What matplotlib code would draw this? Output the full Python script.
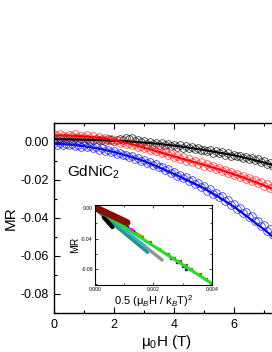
import numpy as np
import matplotlib
matplotlib.use("Agg")
import matplotlib.pyplot as plt
from matplotlib.ticker import MultipleLocator, FormatStrFormatter

plt.rcParams['font.family'] = ['Liberation Sans', 'DejaVu Sans']
plt.rcParams['mathtext.fontset'] = 'custom'
plt.rcParams['mathtext.rm'] = 'Liberation Sans'
plt.rcParams['mathtext.it'] = 'Liberation Sans:italic'
plt.rcParams['axes.unicode_minus'] = False

# ---- main data: field (T) and MR (in units of 1e-4) ----
field = [round(0.1 * i, 1) for i in range(74)]
black_mr_e4 = [18, 10, 20, 14, 8, 17, 12, 19, 9, 15,
               11, 18, 6, 13, 16, 8, 12, 5, 14, 9,
               4, 12, 16, 8, 20, 14, 22, 6, 10, -2,
               4, -8, 2, -12, -4, -14, -6, -18, -10, -22,
               -14, -26, -18, -30, -22, -34, -28, -38, -30, -44,
               -40, -50, -44, -56, -50, -60, -54, -66, -60, -72,
               -66, -76, -72, -82, -78, -90, -84, -96, -92, -104,
               -100, -114, -110, -124]
red_mr_e4 = [40, 30, 42, 34, 28, 38, 30, 40, 26, 34,
             28, 36, 22, 30, 18, 26, 14, 22, 8, 16,
             4, 12, -4, 2, -12, -4, -18, -10, -26, -20,
             -34, -26, -42, -36, -50, -44, -60, -52, -68, -62,
             -80, -72, -88, -80, -98, -90, -106, -98, -114, -106,
             -124, -116, -132, -126, -144, -136, -154, -146, -164, -158,
             -176, -166, -184, -178, -196, -188, -206, -198, -216, -210,
             -232, -222, -244, -238]
blue_mr_e4 = [-6, -16, -4, -14, -8, -18, -10, -20, -14, -24,
              -18, -28, -22, -34, -28, -40, -34, -46, -42, -54,
              -50, -62, -56, -70, -66, -80, -74, -88, -84, -98,
              -94, -110, -104, -120, -116, -134, -130, -148, -142, -162,
              -158, -178, -172, -192, -186, -206, -200, -222, -216, -238,
              -232, -256, -250, -272, -268, -292, -286, -310, -306, -332,
              -326, -352, -346, -372, -368, -396, -390, -418, -414, -442,
              -438, -466, -460, -490]

# fit curves (units of 1e-4)
fit_field = [0.0, 0.5, 1.0, 1.5, 2.0, 2.5, 3.0, 3.5, 4.0, 4.5, 5.0, 5.5, 6.0, 6.5, 7.0, 7.5]
black_fit_e4 = [15, 14, 12, 10, 7, 3, -3, -10, -19, -30, -42, -56, -70, -88, -108, -130]
red_fit_e4 = [35, 34, 30, 22, 10, -8, -30, -52, -76, -98, -120, -144, -170, -198, -228, -260]
blue_fit_e4 = [-10, -13, -22, -35, -53, -75, -100, -133, -168, -205, -243, -290, -340, -400, -460, -525]

# ---- inset data ----
gray_x = [0.0002, 0.0023]
gray_y = [-0.005, -0.068]
teal_x = [0.0001, 0.0018]
teal_y = [-0.004, -0.058]
cyan_x = [0.0001, 0.0017]
cyan_y = [-0.003, -0.050]
orange_x = [0.0001, 0.0016]
orange_y = [-0.001, -0.038]
olive_x = [0.0002, 0.0014]
olive_y = [-0.002, -0.033]
navy_x = [0.0009, 0.0011, 0.0013, 0.0026, 0.0028, 0.0030, 0.0031]
navy_y = [-0.020, -0.025, -0.030, -0.066, -0.071, -0.076, -0.080]
brown_x = [0.0016, 0.0019, 0.0022, 0.0025, 0.0027, 0.0029, 0.0031, 0.0033, 0.0036, 0.0038]
brown_y = [-0.038, -0.045, -0.053, -0.060, -0.065, -0.070, -0.075, -0.080, -0.087, -0.093]
black_in_x = [0.0003, 0.0006]
black_in_y = [-0.012, -0.025]
maroon_x = [0.0000, 0.0011]
maroon_y = [0.001, -0.019]
green_x = [0.0000, 0.0040]
green_y = [0.000, -0.099]
magenta_x = [0.00125]
magenta_y = [-0.028]

fig = plt.figure(figsize=(2.72, 3.52), dpi=100)
ax = fig.add_axes([0.1985, 0.1108, 0.827, 0.5398])

H = np.array(field)
for vals, col in [(black_mr_e4, '#202020'),
                  (red_mr_e4, '#ff3030'),
                  (blue_mr_e4, '#2020ff')]:
    ax.plot(H, np.array(vals) / 1e4, 'o', mfc='none', mec=col, ms=5.5, mew=0.5)
for fit, col in [(black_fit_e4, 'black'), (red_fit_e4, '#ff0000'), (blue_fit_e4, '#0000ff')]:
    ax.plot(fit_field, np.array(fit) / 1e4, '-', color=col, lw=1.5)

ax.set_xlim(0, 7.5)
ax.set_ylim(-0.09, 0.01)
ax.xaxis.set_major_locator(MultipleLocator(2))
ax.xaxis.set_minor_locator(MultipleLocator(1))
ax.yaxis.set_major_locator(MultipleLocator(0.02))
ax.yaxis.set_minor_locator(MultipleLocator(0.01))
ax.yaxis.set_major_formatter(FormatStrFormatter('%.2f'))
ax.tick_params(which='both', direction='in', top=True, right=True, labelsize=9, width=0.8)
ax.tick_params(which='major', length=4, pad=4)
ax.tick_params(which='minor', length=2.5)
for s in ax.spines.values():
    s.set_linewidth(1.0)
ax.set_xlabel('μ$_0$H (T)', fontsize=11, labelpad=2)
ax.set_ylabel('MR', fontsize=11, labelpad=2)
ax.text(0.45, -0.0158, 'GdNiC$_2$', fontsize=11, va='center', ha='left')

# inset
axi = fig.add_axes([0.349, 0.190, 0.430, 0.2273])
axi.set_facecolor('white')
axi.plot(gray_x, gray_y, '-', color='#909090', lw=2.4, solid_capstyle='round')
axi.plot(cyan_x, cyan_y, '-', color='#40b8c8', lw=3.0, solid_capstyle='round')
axi.plot(teal_x, teal_y, '-', color='#209898', lw=2.4, solid_capstyle='round')
axi.plot(orange_x, orange_y, '-', color='#e08020', lw=2.6, solid_capstyle='round')
axi.plot(olive_x, olive_y, '-', color='#a08030', lw=2.0, solid_capstyle='round')
axi.plot(brown_x, brown_y, 's', color='#b05020', ms=1.6)
axi.plot(navy_x, navy_y, 's', color='#202090', ms=2)
axi.plot(black_in_x, black_in_y, '-', color='black', lw=3, solid_capstyle='round')
axi.plot(green_x, green_y, '-', color='#20e020', lw=2.2)
axi.plot(maroon_x, maroon_y, '-', color='#8b0a0a', lw=5, solid_capstyle='round')
axi.plot(magenta_x, magenta_y, 's', color='#ff20ff', ms=2)
axi.set_xlim(0, 0.004)
axi.set_ylim(-0.101, 0.004)
axi.xaxis.set_major_locator(MultipleLocator(0.002))
axi.xaxis.set_minor_locator(MultipleLocator(0.001))
axi.yaxis.set_major_locator(MultipleLocator(0.04))
axi.yaxis.set_minor_locator(MultipleLocator(0.02))
axi.xaxis.set_major_formatter(FormatStrFormatter('%.3f'))
axi.yaxis.set_major_formatter(FormatStrFormatter('%.2f'))
axi.tick_params(which='both', direction='in', top=True, right=True, labelsize=3.6, width=0.5, pad=1.5)
axi.tick_params(which='major', length=2)
axi.tick_params(which='minor', length=1.2)
for s in axi.spines.values():
    s.set_linewidth(0.8)
axi.set_xlabel('0.5 (μ$_B$H / k$_B$T)$^2$', fontsize=8, labelpad=1)
axi.set_ylabel('MR', fontsize=7.5, labelpad=1)

fig.savefig('out.png', dpi=100)
